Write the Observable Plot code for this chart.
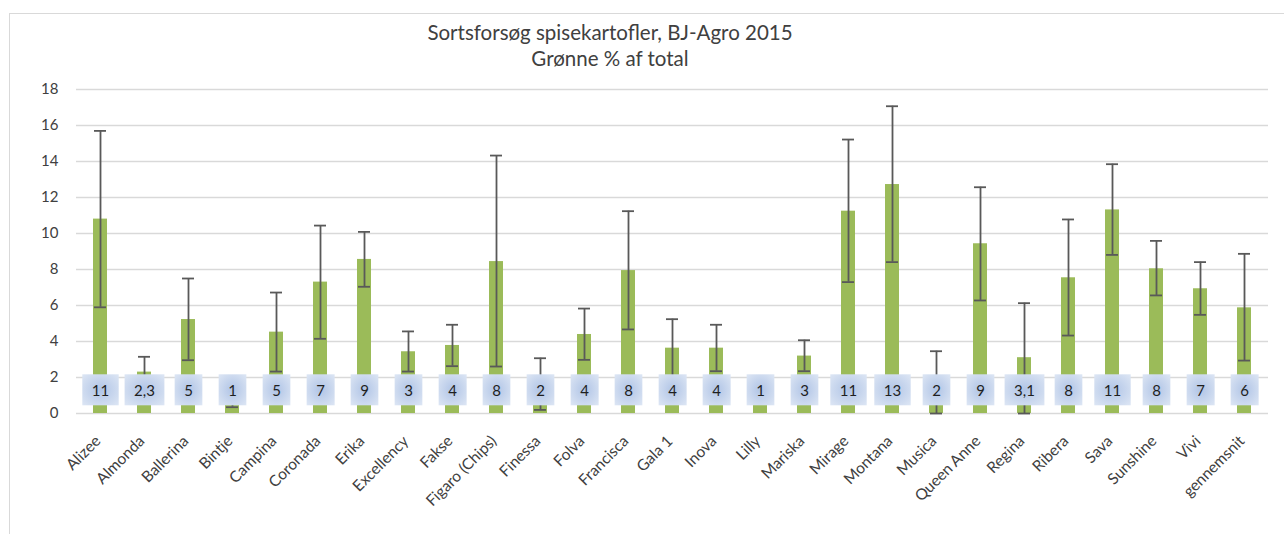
<!DOCTYPE html>
<html>
<head>
<meta charset="utf-8">
<script src="https://cdn.jsdelivr.net/npm/d3@7"></script>
<script src="https://cdn.jsdelivr.net/npm/@observablehq/plot@0.6"></script>
<style>
  html, body { margin: 0; padding: 0; background: #fff; }
  #wrap { position: relative; width: 1284px; height: 534px; overflow: hidden; font-family: Lato, "Open Sans", sans-serif; }
  #frame { position: absolute; left: 9px; top: 13px; width: 1400px; height: 700px;
           border-left: 1.5px solid #d9d9d9; border-top: 1.5px solid #d9d9d9; }
  #title { position: absolute; left: 0; top: 19px; width: 1220px; text-align: center;
           font-size: 20.5px; line-height: 26px; color: #404040; }
  #chart { position: absolute; left: 0; top: 80px; }
</style>
</head>
<body>
<div id="wrap">
  <div id="frame"></div>
  <div id="title">Sortsforsøg spisekartofler, BJ-Agro 2015<br>Grønne % af total</div>
  <div id="chart"></div>
</div>
<script>
const categories = ["Alizee","Almonda","Ballerina","Bintje","Campina","Coronada","Erika","Excellency","Fakse","Figaro (Chips)","Finessa","Folva","Francisca","Gala 1","Inova","Lilly","Mariska","Mirage","Montana","Musica","Queen Anne","Regina","Ribera","Sava","Sunshine","Vivi","gennemsnit"];
const values = [10.8,2.3,5.22,0.9,4.52,7.3,8.56,3.43,3.78,8.44,1.6,4.39,7.94,3.63,3.63,0.7,3.19,11.24,12.72,1.7,9.43,3.1,7.54,11.31,8.04,6.93,5.87];
const upper = [15.7,3.15,7.5,1.45,6.72,10.44,10.09,4.56,4.93,14.33,3.07,5.83,11.24,5.24,4.93,null,4.07,15.22,17.07,3.46,12.57,6.13,10.78,13.85,9.59,8.41,8.87];
const lower = [5.9,1.4,2.96,0.35,2.33,4.15,7.04,2.33,2.63,2.61,0.2,2.98,4.67,2.0,2.35,null,2.35,7.3,8.41,0,6.28,0,4.33,8.81,6.56,5.48,2.94];
const dataLabels = ["11","2,3","5","1","5","7","9","3","4","8","2","4","8","4","4","1","3","11","13","2","9","3,1","8","11","8","7","6"];
const yTicks = [0,2,4,6,8,10,12,14,16,18];
const labelPos = 1.25;

const rows = categories.map((c, i) => ({cat: c, v: values[i], hi: upper[i], lo: lower[i], lab: dataLabels[i]}));
const errRows = rows.filter(d => d.hi != null && d.lo != null);

const chart = Plot.plot({
  width: 1284,
  height: 454,
  marginLeft: 76,
  marginRight: 16,
  marginTop: 9,
  marginBottom: 121,
  style: {fontFamily: "Lato, 'Open Sans', sans-serif", fontSize: "15px", color: "#404040", background: "none", overflow: "visible"},
  x: {domain: categories, paddingInner: 0.69, paddingOuter: 0.345, axis: null},
  y: {domain: [0, 18], axis: null},
  marks: [
    Plot.ruleY(yTicks, {stroke: "#d9d9d9", strokeWidth: 1.5}),
    Plot.barY(rows, {x: "cat", y: "v", fill: "#9bbb59"}),
    Plot.ruleX(errRows, {x: "cat", y1: "lo", y2: "hi", stroke: "#595959", strokeWidth: 1.8}),
    Plot.tickY(errRows, {x: "cat", y: "hi", stroke: "#595959", strokeWidth: 1.8, inset: 1}),
    Plot.tickY(errRows, {x: "cat", y: "lo", stroke: "#595959", strokeWidth: 1.8, inset: 1}),
    Plot.text(rows, {x: "cat", y: () => labelPos, text: "lab", fill: "#1f1f1f", fontSize: 15}),
    Plot.text(yTicks, {y: d => d, text: d => String(d), frameAnchor: "left", textAnchor: "end", dx: -18, fontSize: 15, fill: "#404040"}),
    Plot.text(categories, {x: d => d, y: () => 0, text: d => d, rotate: -45, textAnchor: "end", dx: -2.5, dy: 25, fontSize: 15.5, fill: "#404040"})
  ]
});
document.getElementById("chart").appendChild(chart);

// label boxes with gradient, sized from the rendered text
const ns = "http://www.w3.org/2000/svg";
const defs = document.createElementNS(ns, "defs");
defs.innerHTML = '<radialGradient id="lblg" cx="50%" cy="50%" r="70%"><stop offset="0%" stop-color="#b0c4e6"/><stop offset="100%" stop-color="#dde6f4"/></radialGradient>';
chart.insertBefore(defs, chart.firstChild);
const labelGroup = chart.querySelectorAll('g[aria-label="text"]')[0];
labelGroup.querySelectorAll('text').forEach(t => {
  const bb = t.getBBox();
  const r = document.createElementNS(ns, "rect");
  const cy = bb.y + bb.height / 2;
  r.setAttribute("x", bb.x - 9.5);
  r.setAttribute("y", cy - 15.5);
  r.setAttribute("width", bb.width + 19);
  r.setAttribute("height", 31);
  r.setAttribute("fill", "url(#lblg)");
  if (t.getAttribute("transform")) r.setAttribute("transform", t.getAttribute("transform"));
  t.parentNode.insertBefore(r, t);
});
</script>
</body>
</html>
